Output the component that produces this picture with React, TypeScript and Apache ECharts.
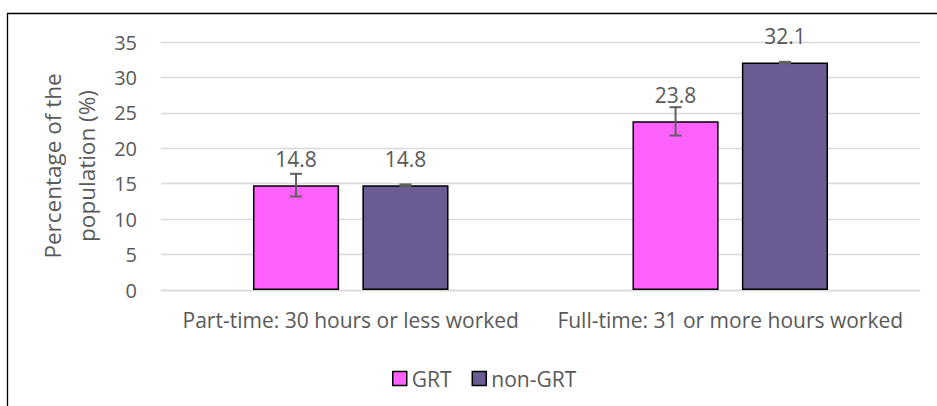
import React, { useEffect, useRef } from "react";
import * as echarts from "echarts";

const categories = ["Part-time: 30 hours or less worked", "Full-time: 31 or more hours worked"];
const grtValues = [14.8, 23.8];
const nonGrtValues = [14.8, 32.1];
const grtErrors = [1.6, 2.0];
const nonGrtErrors = [0.1, 0.1];
const seriesNames = ["GRT", "non-GRT"];
const yAxisName = "Percentage of the\npopulation (%)";

const FONT = "Open Sans";
const TEXT = "#595959";
const BAR_W = 0.227;
const BAR_GAP = 0.27;

export default function App() {
  const ref = useRef<HTMLDivElement>(null);
  useEffect(() => {
    if (!ref.current) return;
    const chart = echarts.init(ref.current, undefined, { renderer: "svg" });

    const errorSeries = (vals: number[], errs: number[], side: number, name: string) => ({
      type: "custom",
      name: name + " error",
      z: 10,
      silent: true,
      data: vals.map((v, i) => [i, v, errs[i]]),
      renderItem: (params: any, api: any) => {
        const i = api.value(0);
        const v = api.value(1);
        const e = api.value(2);
        const band = api.size([1, 0])[0];
        const bw = band * BAR_W;
        const off = (bw + bw * BAR_GAP) / 2;
        const c = api.coord([i, v]);
        const x = c[0] + side * off;
        const top = api.coord([i, v + e])[1];
        const bot = api.coord([i, v - e])[1];
        const cap = 6;
        const style = { stroke: "#5f5f5f", lineWidth: 2 };
        return {
          type: "group",
          children: [
            { type: "line", shape: { x1: x, y1: top, x2: x, y2: bot }, style },
            { type: "line", shape: { x1: x - cap, y1: top, x2: x + cap, y2: top }, style },
            { type: "line", shape: { x1: x - cap, y1: bot, x2: x + cap, y2: bot }, style },
          ],
        };
      },
    });

    const labelCfg = {
      show: true,
      position: "top",
      distance: 16,
      color: TEXT,
      fontFamily: FONT,
      fontSize: 21,
      formatter: (p: any) => p.value.toFixed(1),
    };

    chart.setOption({
      animation: false,
      textStyle: { fontFamily: FONT },
      grid: { left: 161, right: 17, top: 42, bottom: 116, containLabel: false },
      graphic: [
        { type: "line", shape: { x1: 7, y1: 13.5, x2: 937, y2: 13.5 }, style: { stroke: "#000", lineWidth: 1.3 } },
        { type: "line", shape: { x1: 7.5, y1: 13, x2: 7.5, y2: 406 }, style: { stroke: "#000", lineWidth: 1.3 } },
      ],
      legend: {
        data: seriesNames,
        left: 387,
        top: 363,
        itemWidth: 14,
        itemHeight: 14,
        itemGap: 20,
        icon: "rect",
        textStyle: { color: TEXT, fontFamily: FONT, fontSize: 21 },
        itemStyle: { borderColor: "#000", borderWidth: 1.5 },
      },
      xAxis: {
        type: "category",
        data: categories,
        axisLine: { show: true, lineStyle: { color: "#d9d9d9", width: 1.3 } },
        axisTick: { show: false },
        axisLabel: { color: TEXT, fontFamily: FONT, fontSize: 21, margin: 19, interval: 0 },
      },
      yAxis: {
        type: "value",
        min: 0,
        max: 35,
        interval: 5,
        name: yAxisName,
        nameLocation: "middle",
        nameGap: 44,
        nameRotate: 90,
        nameTextStyle: { color: TEXT, fontFamily: FONT, fontSize: 22.5, lineHeight: 34 },
        axisLine: { show: false },
        axisTick: { show: false },
        axisLabel: { color: TEXT, fontFamily: FONT, fontSize: 20, margin: 24 },
        splitLine: { lineStyle: { color: "#d9d9d9", width: 1.3 } },
      },
      series: [
        {
          type: "bar",
          name: seriesNames[0],
          data: grtValues,
          barWidth: BAR_W * 100 + "%",
          barGap: BAR_GAP * 100 + "%",
          itemStyle: { color: "#FF61FF", borderColor: "#000", borderWidth: 1.5 },
          label: labelCfg,
        },
        {
          type: "bar",
          name: seriesNames[1],
          data: nonGrtValues,
          barWidth: BAR_W * 100 + "%",
          barGap: BAR_GAP * 100 + "%",
          itemStyle: { color: "#6B5C93", borderColor: "#000", borderWidth: 1.5 },
          label: labelCfg,
        },
        errorSeries(grtValues, grtErrors, -1, seriesNames[0]),
        errorSeries(nonGrtValues, nonGrtErrors, 1, seriesNames[1]),
      ],
    });
    return () => chart.dispose();
  }, []);
  return (
    <div style={{ position: "fixed", left: 0, top: 0, width: 937, height: 406, background: "#fff" }}>
      <div ref={ref} style={{ width: 937, height: 406 }} />
    </div>
  );
}
